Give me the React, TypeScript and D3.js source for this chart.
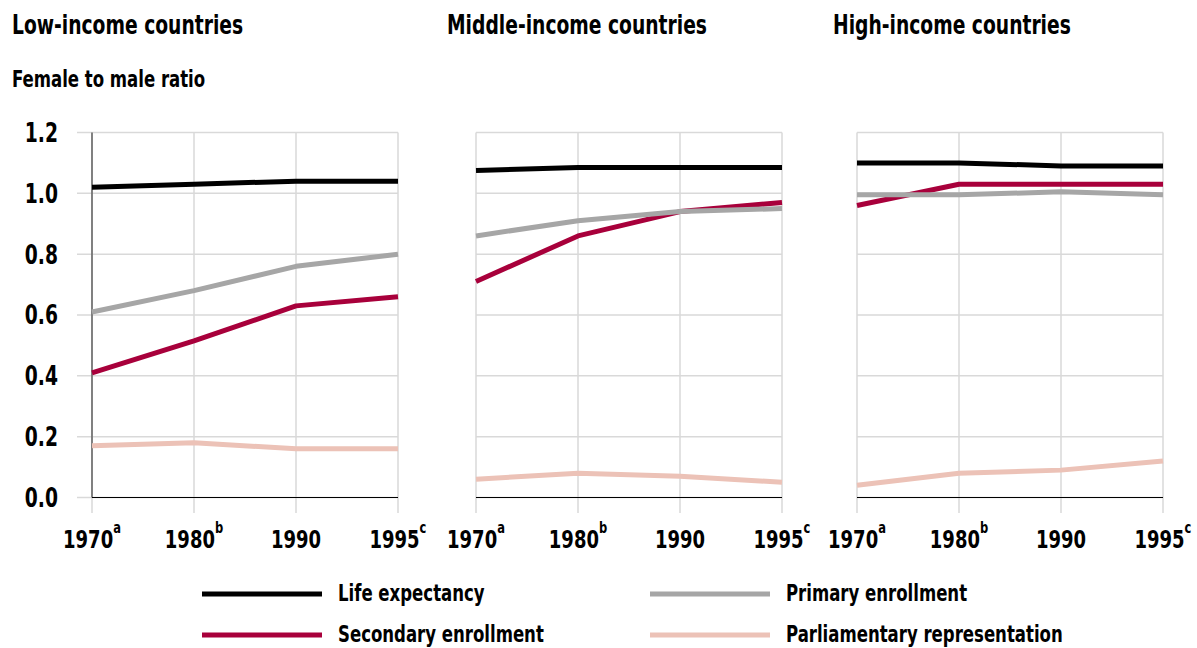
import React from "react";
import * as d3 from "d3";

const years = ["1970", "1980", "1990", "1995"];
const yearNotes = ["a", "b", "", "c"];
const yTicks = [0, 0.2, 0.4, 0.6, 0.8, 1.0, 1.2];

const panelTitles = ["Low-income countries", "Middle-income countries", "High-income countries"];
const seriesNames = ["Life expectancy", "Primary enrollment", "Secondary enrollment", "Parliamentary representation"];
const seriesColors = ["#000000", "#a6a6a6", "#a8003b", "#ecc2b7"];

// values per panel: [life, primary, secondary, parliament]
const lowIncome = [
  [1.02, 1.03, 1.04, 1.04],
  [0.61, 0.68, 0.76, 0.80],
  [0.41, 0.515, 0.63, 0.66],
  [0.17, 0.18, 0.16, 0.16],
];
const middleIncome = [
  [1.075, 1.085, 1.085, 1.085],
  [0.86, 0.91, 0.94, 0.95],
  [0.71, 0.86, 0.94, 0.97],
  [0.06, 0.08, 0.07, 0.05],
];
const highIncome = [
  [1.10, 1.10, 1.09, 1.09],
  [0.995, 0.995, 1.005, 0.995],
  [0.96, 1.03, 1.03, 1.03],
  [0.04, 0.08, 0.09, 0.12],
];
const panelData = [lowIncome, middleIncome, highIncome];

const FONT = "'DejaVu Sans Condensed', 'Liberation Sans Narrow', sans-serif";
const SX = 0.8;

const panelLefts = [92, 476, 857];
const panelWidth = 306;
const yScale = d3.scaleLinear().domain([0, 1.2]).range([497.5, 132.5]);
const drawOrder = [3, 2, 1, 0];

function T({ x, y, size, anchor, children, dy }: any) {
  return (
    <text
      transform={`translate(${x},${y}) scale(${SX},1)`}
      textAnchor={anchor || "start"}
      dy={dy}
      fontFamily={FONT}
      fontWeight="bold"
      fontSize={size}
      fill="#000"
    >
      {children}
    </text>
  );
}

function Panel({ idx }: { idx: number }) {
  const left = panelLefts[idx];
  const x = d3.scalePoint<string>().domain(years).range([left, left + panelWidth]);
  const data = panelData[idx];
  const line = d3
    .line<number>()
    .x((_, i) => x(years[i]) as number)
    .y((v) => yScale(v));
  const gridLeft = idx === 0 ? left - 15 : left;
  return (
    <g>
      {yTicks.map((t) => (
        <line key={"h" + t} x1={gridLeft} x2={left + panelWidth} y1={yScale(t)} y2={yScale(t)} stroke="#d9d9d9" strokeWidth={1.5} />
      ))}
      {years.map((yr) => (
        <line key={"v" + yr} x1={x(yr)} x2={x(yr)} y1={yScale(1.2)} y2={513} stroke="#d9d9d9" strokeWidth={1.5} />
      ))}
      {idx === 0 && (
        <line x1={left} x2={left} y1={yScale(1.2)} y2={yScale(0)} stroke="#404040" strokeWidth={1.2} />
      )}
      <line x1={left} x2={left + panelWidth} y1={yScale(0)} y2={yScale(0)} stroke="#000" strokeWidth={1.2} />
      {drawOrder.map((s) => (
        <path key={"s" + s} d={line(data[s]) as string} fill="none" stroke={seriesColors[s]} strokeWidth={5} strokeLinejoin="round" />
      ))}
      {idx === 0 &&
        yTicks.map((t) => (
          <T key={"yl" + t} x={58} y={yScale(t)} dy="0.36em" anchor="end" size={26}>
            {t.toFixed(1)}
          </T>
        ))}
      {years.map((yr, i) => (
        <T key={"xl" + yr} x={x(yr)} y={548} anchor="middle" size={25}>
          {yr}
          {yearNotes[i] && (
            <tspan fontSize={16} dy={-15}>
              {yearNotes[i]}
            </tspan>
          )}
        </T>
      ))}
      <T x={[12, 447, 833][idx]} y={34} size={26}>
        {panelTitles[idx]}
      </T>
    </g>
  );
}

export default function App() {
  const legendPos = [
    { x: 202, y: 594 },
    { x: 650, y: 594 },
    { x: 202, y: 635 },
    { x: 650, y: 635 },
  ];
  return (
    <svg width={1197} height={648} style={{ position: "absolute", left: 0, top: 0, background: "#fff" }}>
      <rect width={1197} height={648} fill="#fff" />
      <T x={12} y={87} size={23}>
        Female to male ratio
      </T>
      {[0, 1, 2].map((i) => (
        <Panel key={i} idx={i} />
      ))}
      {seriesNames.map((name, i) => (
        <g key={name}>
          <line x1={legendPos[i].x} x2={legendPos[i].x + 120} y1={legendPos[i].y} y2={legendPos[i].y} stroke={seriesColors[i]} strokeWidth={5} />
          <T x={legendPos[i].x + 136} y={legendPos[i].y + 7} size={23}>
            {name}
          </T>
        </g>
      ))}
    </svg>
  );
}
